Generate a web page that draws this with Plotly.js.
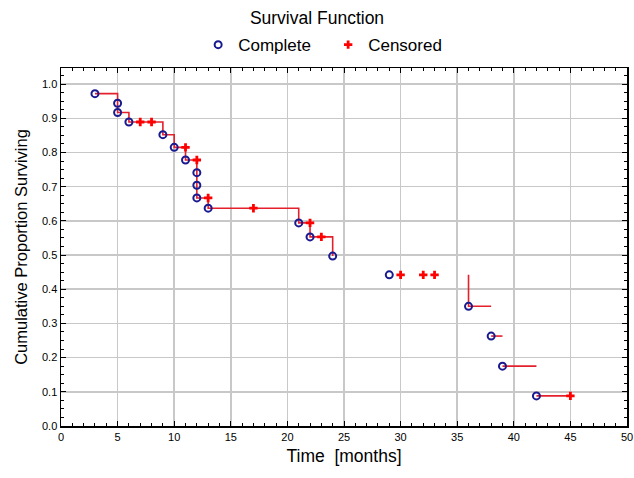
<!DOCTYPE html>
<html>
<head>
<meta charset="utf-8">
<script src="https://cdn.plot.ly/plotly-3.0.1.min.js"></script>
<style>html,body{margin:0;padding:0;background:#fff;}#chart{width:634px;height:478px;}</style>
</head>
<body>
<div id="chart"></div>
<script>
// Complete (event) observations
var completeTime = [3, 5, 5, 6, 9, 10, 11, 12, 12, 12, 13, 21, 22, 24, 29, 36, 38, 39, 42];
var completeSurv = [0.972, 0.944, 0.917, 0.889, 0.852, 0.815, 0.778, 0.741, 0.704, 0.667, 0.637, 0.594, 0.553, 0.497, 0.442, 0.350, 0.263, 0.175, 0.088];
// Censored observations
var censoredTime = [7, 8, 11, 12, 13, 17, 22, 23, 30, 32, 33, 45];
var censoredSurv = [0.889, 0.889, 0.815, 0.778, 0.667, 0.637, 0.594, 0.553, 0.442, 0.442, 0.442, 0.088];
// Step-function segments as drawn (null = break)
var stepTime = [3, 5, 5, 6, 9, 10, 11, 12, 12, 12, 13, 21, 22, 24, null, 36, 36, 38, null, 38, 39, null, 39, 42, null, 42, 45];
var stepSurv = [0.972, 0.944, 0.917, 0.889, 0.852, 0.815, 0.778, 0.741, 0.704, 0.667, 0.637, 0.594, 0.553, 0.497, null, 0.442, 0.350, 0.350, null, 0.263, 0.263, null, 0.175, 0.175, null, 0.088, 0.088];

var FONT = 'Liberation Sans, Arial, sans-serif';

var traces = [
  {x: stepTime, y: stepSurv, type: 'scatter', mode: 'lines', line: {shape: 'hv', color: '#e3202c', width: 1.6}, showlegend: false, hoverinfo: 'skip', connectgaps: false},
  {x: completeTime, y: completeSurv, type: 'scatter', mode: 'markers', name: 'Complete',
   marker: {symbol: 'circle-open', size: 7, color: '#1a1a90', line: {width: 2, color: '#1a1a90'}}},
  {x: censoredTime, y: censoredSurv, type: 'scatter', mode: 'markers', name: 'Censored',
   marker: {symbol: 'cross', size: 7, color: '#ff0000', line: {width: 0}}}
];

var layout = {
  width: 634, height: 478,
  margin: {l: 61, r: 7, t: 68, b: 52},
  paper_bgcolor: '#fff', plot_bgcolor: '#fff',
  font: {family: FONT, color: '#000'},
  title: {text: 'Survival Function', x: 0.5, xanchor: 'center', y: 0.962, yanchor: 'middle', yref: 'container', font: {size: 17.5, family: FONT, color: '#000'}},
  showlegend: true,
  legend: {orientation: 'h', x: 0.472, xanchor: 'center', y: 1.064, yanchor: 'middle', font: {size: 17, family: FONT}, bgcolor: 'rgba(0,0,0,0)', itemwidth: 30, entrywidth: 85},
  xaxis: {
    range: [0, 50], dtick: 5, tick0: 0, showgrid: true, gridcolor: '#c8c8c8', gridwidth: 1.5,
    zeroline: false, showline: true, linecolor: '#000', linewidth: 1.5, mirror: 'allticks',
    ticks: 'inside', ticklen: 5, tickcolor: '#000', tickfont: {size: 11, family: FONT},
    minor: {dtick: 1, ticks: 'inside', ticklen: 3, tickcolor: '#000', showgrid: false},
    title: {text: 'Time  [months]', font: {size: 17.5, family: FONT}, standoff: 8}
  },
  yaxis: {
    range: [0, 1.047], dtick: 0.1, tick0: 0, tickformat: '.1f', showgrid: true, gridcolor: '#c8c8c8', gridwidth: 1.5,
    zeroline: false, showline: true, linecolor: '#000', linewidth: 1.5, mirror: 'allticks',
    ticks: 'inside', ticklen: 5, tickcolor: '#000', tickfont: {size: 11, family: FONT},
    minor: {dtick: 0.025, ticks: 'inside', ticklen: 3, tickcolor: '#000', showgrid: false},
    title: {text: 'Cumulative Proportion Surviving', font: {size: 16.5, family: FONT}, standoff: 10}
  }
};

Plotly.newPlot('chart', traces, layout, {displayModeBar: false, staticPlot: true});
</script>
</body>
</html>
